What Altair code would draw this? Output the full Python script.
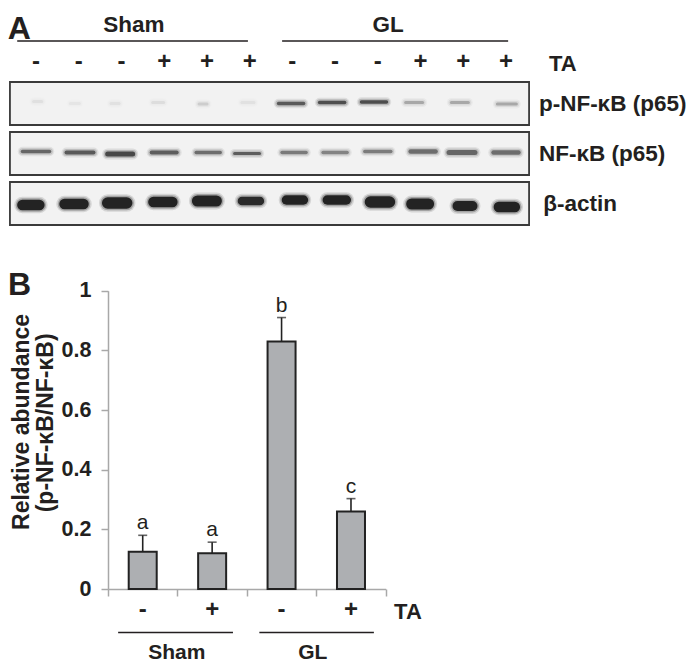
import altair as alt
import pandas as pd

FONT = "Liberation Sans"
INK = "#231f20"

# ---------- Panel A: western blot (lane units / blot-row units) ----------
lanes = list(range(1, 13))
ta_signs = ["-", "-", "-", "+", "+", "+", "-", "-", "-", "+", "+", "+"]
blot_rows = [1, 2, 3]
blot_names = ["p-NF-κB (p65)", "NF-κB (p65)", "β-actin"]

p_lane = [1.04, 1.91, 2.85, 3.86, 4.91, 5.96, 6.97, 7.93, 8.91, 9.85, 10.92, 12.02]
p_row = [0.96, 1.0, 1.0, 0.98, 1.01, 0.98, 1.0, 0.98, 0.97, 0.98, 0.98, 1.01]
p_len = [8, 9, 8, 11, 8, 12, 25, 25, 25, 17, 17, 19]
p_wid = [3, 3, 3, 3, 3, 3, 3.5, 3.5, 3.5, 3, 3, 3]
p_op = [0.06, 0.04, 0.05, 0.07, 0.12, 0.05, 0.62, 0.68, 0.68, 0.26, 0.26, 0.26]

t_lane = [1, 2.03, 2.97, 4.0, 5.03, 5.94, 7.04, 8.0, 9.0, 10.06, 10.97, 12.0]
t_row = [1.96, 1.98, 2.01, 1.98, 1.98, 2.0, 1.98, 1.98, 1.96, 1.96, 1.98, 1.98]
t_len = [27, 27, 25, 25, 24, 25, 24, 24, 26, 25, 26, 25]
t_wid = [3.5, 4, 5, 4, 3.5, 3, 3.5, 3.5, 3.5, 4.5, 5, 4.5]
t_op = [0.55, 0.62, 0.72, 0.6, 0.52, 0.6, 0.46, 0.42, 0.45, 0.52, 0.55, 0.52]

a_lane = [0.88, 1.89, 2.9, 3.97, 5.0, 6.03, 7.06, 8.04, 9.05, 9.99, 11.04, 12.02]
a_row = [3.03, 3.01, 2.99, 2.97, 2.95, 2.95, 2.93, 2.93, 2.97, 3.01, 3.05, 3.07]
a_len = [17, 19, 19, 19, 19, 18, 17, 19, 19, 17, 15, 16]
a_wid = [10.5, 10.5, 11.5, 10.5, 11, 8.5, 9.5, 9.5, 11.5, 11, 10, 10.5]
a_op = [0.95, 0.95, 0.95, 0.95, 0.95, 0.9, 0.95, 0.95, 0.95, 0.95, 0.95, 0.95]

# ---------- Panel B: bar chart ----------
groups = [0.5, 1.5, 2.5, 3.5]
means = [0.125, 0.12, 0.83, 0.26]
tops = [0.18, 0.157, 0.91, 0.303]
letters = ["a", "a", "b", "c"]
signs_b = ["-", "+", "-", "+"]

lane_x = alt.Scale(domain=[1, 12], range=[28, 498], nice=False, zero=False, padding=0)
row_y = alt.Scale(domain=[1, 3], range=[95.5, 195.5], nice=False, zero=False, padding=0)
X = lambda f: alt.X(f, type="quantitative", scale=lane_x, axis=None)
Y = lambda f: alt.Y(f, type="quantitative", scale=row_y, axis=None)

bands = pd.DataFrame({
    "lane": p_lane + t_lane + a_lane,
    "row": p_row + t_row + a_row,
    "len": p_len + t_len + a_len,
    "wid": p_wid + t_wid + a_wid,
    "op": p_op + t_op + a_op,
})
px_lane = 1 / 42.73
bands["x0"] = bands["lane"] - bands["len"] * px_lane / 2
bands["x1"] = bands["lane"] + bands["len"] * px_lane / 2
bands["halo2"] = bands["wid"] + 6
bands["halo2_op"] = bands["op"] * 0.14
bands["halo"] = bands["wid"] + 3
bands["halo_op"] = bands["op"] * 0.28

boxes = pd.DataFrame({"x0": [0.39] * 3, "x1": [12.54] * 3,
                      "y0": [r - 0.43 for r in blot_rows], "y1": [r + 0.43 for r in blot_rows]})

box_layer = alt.Chart(boxes).mark_rect(fill="#f2f2f2", stroke="#3a3a3a", strokeWidth=1.8).encode(
    x=X("x0"), x2="x1", y=Y("y0"), y2="y1")


def band_layer(w, o):
    return alt.Chart(bands).mark_rule(strokeCap="round", color="#1c1c1c").encode(
        x=X("x0"), x2="x1", y=Y("row"),
        size=alt.Size(f"{w}:Q", scale=None, legend=None),
        opacity=alt.Opacity(f"{o}:Q", scale=None, legend=None))


def a_text(df, size=22.5, align="center", weight="bold"):
    return alt.Chart(pd.DataFrame(df)).mark_text(
        font=FONT, fontWeight=weight, fontSize=size, align=align, baseline="middle", color=INK
    ).encode(x=X("x"), y=Y("y"), text="t:N")


a_lines = alt.Chart(pd.DataFrame({"x0": [0.56, 6.76], "x1": [5.96, 12.05], "y": [-0.25, -0.25]})).mark_rule(
    color=INK, strokeWidth=1.5).encode(x=X("x0"), x2="x1", y=Y("y"))

panel_a = alt.layer(
    box_layer, band_layer("halo2", "halo2_op"), band_layer("halo", "halo_op"), band_layer("wid", "op"), a_lines,
    a_text({"x": [0.34], "y": [-0.5], "t": ["A"]}, size=32, align="left"),
    a_text({"x": [3.29, 9.24], "y": [-0.57, -0.57], "t": ["Sham", "GL"]}),
    a_text({"x": lanes, "y": [0.17] * 12, "t": ta_signs}, size=24),
    a_text({"x": [13.33], "y": [0.21], "t": ["TA"]}, size=22),
    a_text({"x": [12.77, 12.77, 12.87], "y": blot_rows, "t": blot_names}, size=22.5, align="left"),
)

# ---------- Panel B ----------
grp_x = alt.Scale(domain=[0, 4], range=[100, 377.7], nice=False, zero=False, padding=0)
val_y = alt.Scale(domain=[0, 1], range=[581, 282.7], nice=False, zero=False, padding=0)
bars_df = pd.DataFrame({"g": groups, "m": means, "top": tops, "letter": letters})

XB = lambda f, **k: alt.X(f, type="quantitative", scale=grp_x, **k)
YB = lambda f, **k: alt.Y(f, type="quantitative", scale=val_y, **k)
AXIS_C = "#a8a8a8"

axes_layer = alt.Chart(bars_df).mark_bar(size=28, fill="#adafb2", stroke="#222222", strokeWidth=2).encode(
    x=XB("g", axis=alt.Axis(values=[0, 1, 2, 3, 4], labels=False, title=None, grid=False,
                            domainColor=AXIS_C, domainWidth=1.5, tickColor=AXIS_C, tickWidth=1.5, tickSize=7)),
    y=YB("m", axis=alt.Axis(values=[0, 0.2, 0.4, 0.6, 0.8, 1], format="~g", title=None, grid=False, offset=-100,
                            domainColor=AXIS_C, domainWidth=1.5, tickColor=AXIS_C, tickWidth=1.5, tickSize=7,
                            labelFont=FONT, labelFontWeight="bold", labelFontSize=21.5, labelColor=INK,
                            labelPadding=10)),
)
err_layer = alt.Chart(bars_df).mark_rule(color="#222222", strokeWidth=1.6).encode(
    x=XB("g"), y=YB("m"), y2="top")
cap_layer = alt.Chart(bars_df).mark_tick(color="#222222", orient="horizontal", size=9, thickness=1.6).encode(
    x=XB("g"), y=YB("top"))
letter_layer = alt.Chart(bars_df).mark_text(font=FONT, fontSize=21, color=INK, baseline="middle", dy=-12).encode(
    x=XB("g"), y=YB("top"), text="letter:N")


def b_text(df, size=21, align="center", angle=0):
    return alt.Chart(pd.DataFrame(df)).mark_text(
        font=FONT, fontWeight="bold", fontSize=size, align=align, baseline="middle", color=INK, angle=angle
    ).encode(x=XB("x"), y=YB("y"), text="t:N")


b_lines = alt.Chart(pd.DataFrame({"x0": [0.146, 2.18], "x1": [1.8, 3.83], "y": [-0.146, -0.146]})).mark_rule(
    color=INK, strokeWidth=1.5).encode(x=XB("x0"), x2="x1", y=YB("y"))

panel_b = alt.layer(
    axes_layer, err_layer, cap_layer, letter_layer, b_lines,
    b_text({"x": [-1.44], "y": [1.02], "t": ["B"]}, size=32, align="left"),
    b_text({"x": groups, "y": [-0.07] * 4, "t": signs_b}, size=24),
    b_text({"x": [4.32], "y": [-0.076], "t": ["TA"]}, size=22),
    b_text({"x": [0.99, 2.95], "y": [-0.214, -0.214], "t": ["Sham", "GL"]}),
    b_text({"x": [-1.24], "y": [0.56], "t": ["Relative abundance"]}, size=23, angle=270),
    b_text({"x": [-0.9], "y": [0.557], "t": ["(p-NF-κB/NF-κB)"]}, size=23, angle=270),
)

chart = (
    alt.layer(panel_a, panel_b)
    .resolve_scale(x="independent", y="independent")
    .properties(width=678, height=581,
                autosize=alt.AutoSizeParams(type="none"),
                padding={"left": 0, "top": 0, "right": 0, "bottom": 74})
    .configure_view(stroke=None)
)
chart.save("out.html", embed_options={"renderer": "svg", "actions": False})
